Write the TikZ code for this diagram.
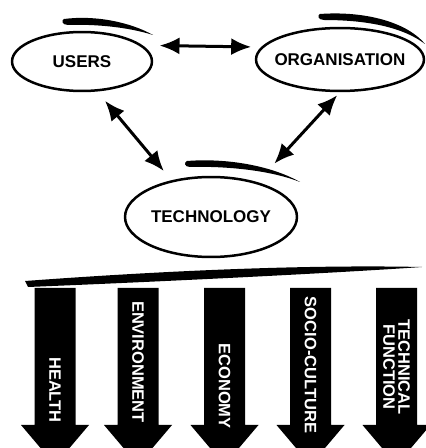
\documentclass[tikz,border=0pt]{standalone}
\usepackage{fontspec}
\setmainfont{Liberation Sans}
\usetikzlibrary{shapes.geometric,arrows.meta}
\tikzset
{
    actor/.style  = {ellipse, draw=black, line width=2.5pt, inner sep=0pt},
    actorname/.style = {font=\fontsize{17}{17}\selectfont\bfseries},
    impact/.style = {text=white, rotate=-90, align=center, font=\fontsize{16.5}{15}\selectfont\bfseries},
    link/.style   = {line width=3pt, {Latex[length=20pt,width=17pt]}-{Latex[length=20pt,width=17pt]}}
}

\begin{document}
\begin{tikzpicture}[scale=0.03515]
\useasboundingbox (0,0) rectangle (426,448);
\newcommand\halfShaft{20.5}
\newcommand\halfHead{34}
\newcommand\halfTip{14.5}
% the three actors
\node(users) [actor, minimum width=140pt, minimum height=59pt] at (82, 386.5) {};
\node(org) [actor, minimum width=168pt, minimum height=63pt] at (340, 388.5) {};
\node(tech) [actor, minimum width=172pt, minimum height=80pt] at (211, 231) {};
\node(usersname) [actorname] at (users) {USERS};
\node(orgname) [actorname] at (org) {ORGANISATION};
\node(techname) [actorname] at (tech) {TECHNOLOGY};
% pen strokes over the ellipses
\fill (64,429) .. controls (95,433) and (130,426) .. (153,413) .. controls (128,421) and (95,424) .. (68,423) .. controls (62,423) and (61,428) .. cycle;
\fill (320,434) .. controls (360,437) and (405,428) .. (425,404) .. controls (400,423) and (360,428) .. (324,428) .. controls (318,428) and (317,433) .. cycle;
\fill (187,287) .. controls (225,290) and (270,283) .. (300,266) .. controls (270,278) and (225,282) .. (190,281) .. controls (184,281) and (184,286) .. cycle;
\draw[link, shorten <=17pt, shorten >=10pt] (users.15) -- (org.171);
\draw[link, shorten <=12pt, shorten >=12pt] (users.-63) -- (tech.137);
\draw[link, shorten <=25pt, shorten >=4pt] (tech.37) -- (org.-90);
% the bar
\fill (25,167) .. controls (120,174) and (280,184) .. (422,181) .. controls (350,176) and (200,168) .. (28,161) -- cycle;
% the five impact arrows, cut by the lower edge
\fill ({55-\halfShaft},160) -- ({55+\halfShaft},160) -- ({55+\halfShaft},23) -- ({55+\halfHead},23) -- ({55+\halfTip},0) -- ({55-\halfTip},0) -- ({55-\halfHead},23) -- ({55-\halfShaft},23) -- cycle;
\fill ({138-\halfShaft},160) -- ({138+\halfShaft},160) -- ({138+\halfShaft},23) -- ({138+\halfHead},23) -- ({138+\halfTip},0) -- ({138-\halfTip},0) -- ({138-\halfHead},23) -- ({138-\halfShaft},23) -- cycle;
\fill ({224.5-\halfShaft},160) -- ({224.5+\halfShaft},160) -- ({224.5+\halfShaft},23) -- ({224.5+\halfHead},23) -- ({224.5+\halfTip},0) -- ({224.5-\halfTip},0) -- ({224.5-\halfHead},23) -- ({224.5-\halfShaft},23) -- cycle;
\fill ({310.5-\halfShaft},160) -- ({310.5+\halfShaft},160) -- ({310.5+\halfShaft},23) -- ({310.5+\halfHead},23) -- ({310.5+\halfTip},0) -- ({310.5-\halfTip},0) -- ({310.5-\halfHead},23) -- ({310.5-\halfShaft},23) -- cycle;
\fill ({396.5-\halfShaft},160) -- ({396.5+\halfShaft},160) -- ({396.5+\halfShaft},23) -- ({396.5+\halfHead},23) -- ({396.5+\halfTip},0) -- ({396.5-\halfTip},0) -- ({396.5-\halfHead},23) -- ({396.5-\halfShaft},23) -- cycle;
\node(health) [impact] at (55, 58) {HEALTH};
\node(environment) [impact] at (138, 86) {ENVIRONMENT};
\node(economy) [impact] at (224.5, 62) {ECONOMY};
\node(socioculture) [impact] at (310.5, 83) {SOCIO-CULTURE};
\node(technical) [impact] at (396.5, 81) {TECHNICAL\\FUNCTION};
\end{tikzpicture}
\end{document}
